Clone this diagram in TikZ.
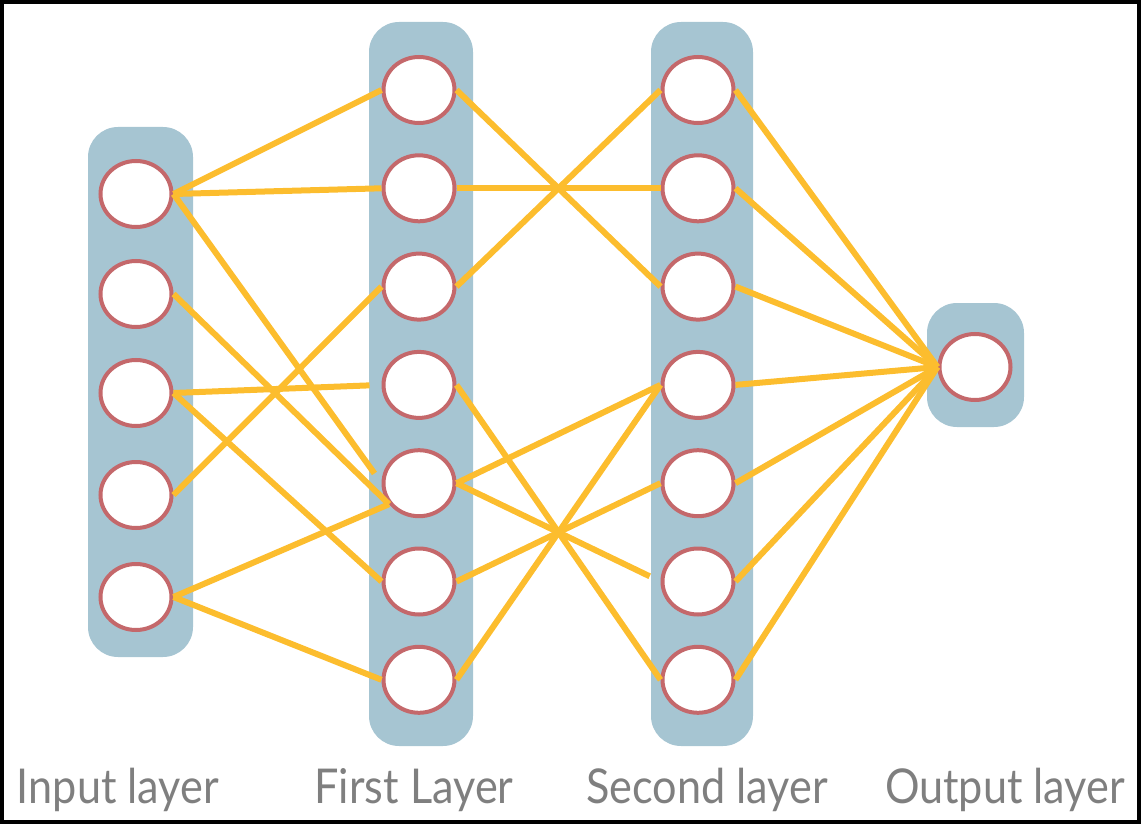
\documentclass[tikz,border=0pt]{standalone}
\usepackage{fontspec}
\setmainfont{Lato}
\newfontfamily\capfont[FakeStretch=0.9]{Lato}
\usetikzlibrary{shapes.geometric,positioning,calc}
\definecolor{layerblue}{HTML}{A6C5D2}
\definecolor{unitrose}{HTML}{C4686B}
\definecolor{wireamber}{HTML}{FCBD2E}
\definecolor{captiongray}{HTML}{7F7F7F}

\begin{document}
\begin{tikzpicture}[x=0.5pt,y=-0.5pt,
    layer/.style={fill=layerblue,rounded corners=15pt},
    unit/.style={ellipse,draw=unitrose,fill=white,line width=2pt,
                 minimum width=35.5pt,minimum height=33pt,inner sep=0pt},
    wire/.style={wireamber,line width=3pt},
    caption/.style={anchor=base,text=captiongray,
                    font=\capfont\fontsize{24}{28}\selectfont}]
  \useasboundingbox (0,0) rectangle (1141,824);
  \draw[line width=2pt] (2,2) rectangle (1139,822);

  % column backgrounds
  \fill[layer] (88,127) rectangle (193,657);
  \fill[layer] (369,22) rectangle (473,746);
  \fill[layer] (651,22) rectangle (753,746);
  \fill[layer] (927,303) rectangle (1024,427);

  % units
  \foreach \i/\y in {1/194,2/294,3/393,4/495,5/597}
    \node[unit] (in\i) at (136,\y) {};
  \foreach \i in {1,...,7} {
    \node[unit] (first\i) at (419,{90+98.3*(\i-1)}) {};
    \node[unit] (second\i) at (698,{90+98.3*(\i-1)}) {};
  }
  \node[unit] (out) at (975,367) {};

  % input -> first layer
  \foreach \a/\b in {1/1,1/2,3/6,4/3,5/7}
    \draw[wire] (in\a.east) -- (first\b.west);
  \draw[wire,shorten >=6pt] (in1.east) -- (first5.west);
  \draw[wire,shorten >=6pt] (in3.east) -- (first4.west);
  \draw[wire] (in2.east) -- (first5.215);
  \draw[wire] (in5.east) -- (first5.215);

  % first -> second layer
  \foreach \a/\b in {1/3,2/2,3/1,4/7,5/4,6/5,7/4}
    \draw[wire] (first\a.east) -- (second\b.west);
  \draw[wire,shorten >=6pt] (first5.east) -- (second6.west);

  % second layer -> output
  \foreach \i in {1,...,7}
    \draw[wire] (second\i.east) -- (out.west);

  % captions
  \node[caption] (capin) at (118,803) {Input layer};
  \node[caption] (capfirst) at (414,803) {First Layer};
  \node[caption] (capsecond) at (707,803) {Second layer};
  \node[caption] (capout) at (1005,803) {Output layer};
\end{tikzpicture}
\end{document}
